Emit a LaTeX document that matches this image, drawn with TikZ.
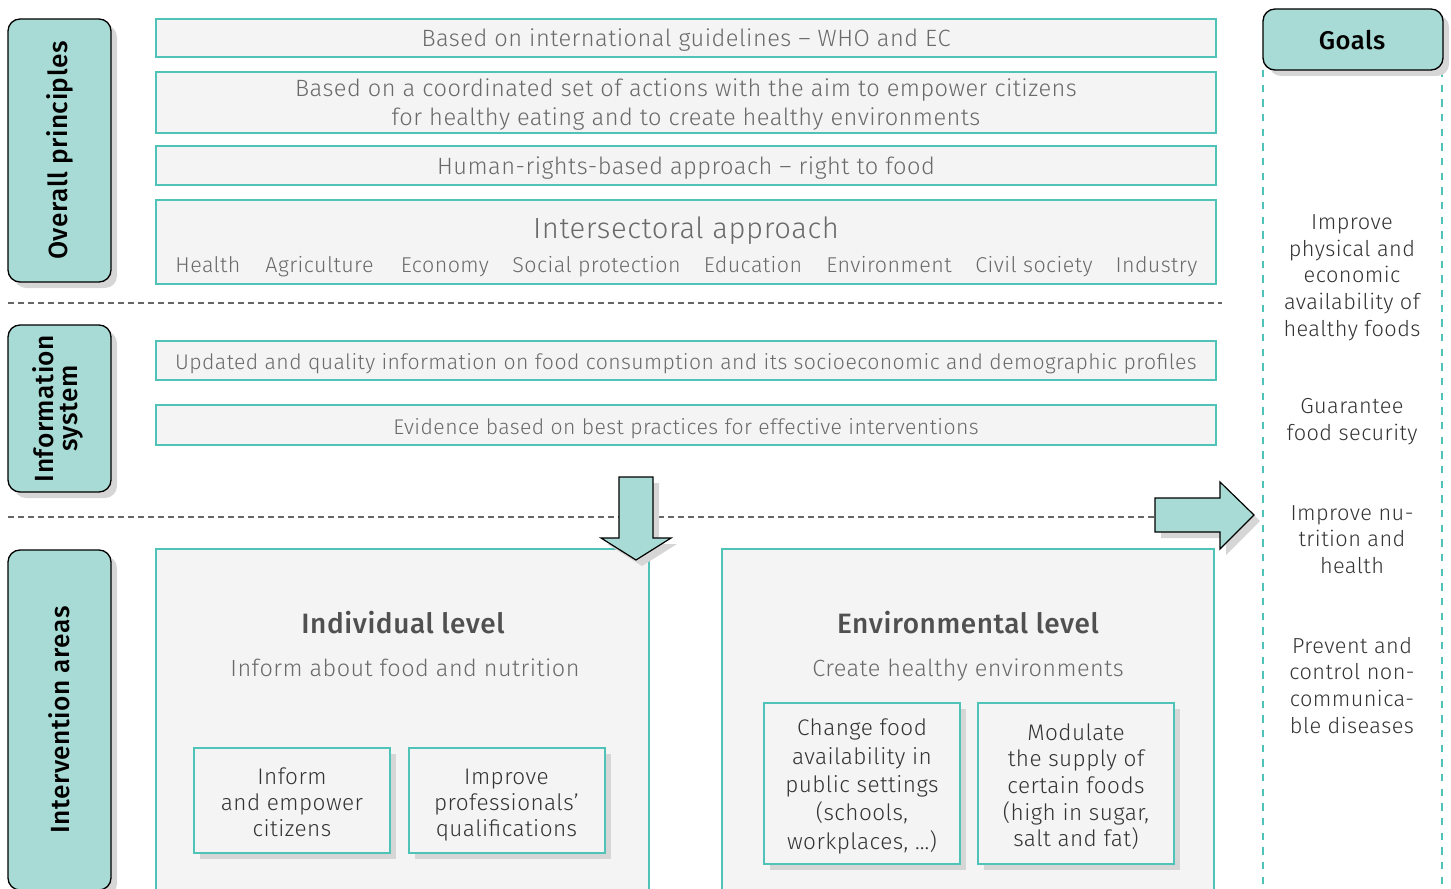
\documentclass[tikz,border=0pt]{standalone}
\usepackage{fontspec}
\setmainfont{Fira Sans}[UprightFont=* Light, BoldFont=* Medium, LetterSpace=2]
\usetikzlibrary{shadows}
\definecolor{teal1}{HTML}{4FC3B7}
\definecolor{tealfill}{HTML}{A8DBD5}
\definecolor{boxfill}{HTML}{F4F4F4}
\definecolor{txtgray}{HTML}{6A6A6A}
\definecolor{txtdark}{HTML}{333333}
\definecolor{titlegray}{HTML}{505050}
\definecolor{dashgray}{HTML}{666666}
\definecolor{shadowgray}{HTML}{D6D6D6}
\newcommand\myfs[2]{\fontsize{#1}{#2}\selectfont}
\begin{document}
\begin{tikzpicture}[x=0.75pt,y=-0.75pt,
  shad/.style={drop shadow={shadow xshift=4.5pt,shadow yshift=-4.5pt,fill=shadowgray,opacity=1}},
  lbl/.style={draw=black,line width=1pt,fill=tealfill,rounded corners=9pt,inner sep=0pt,outer sep=0pt,shad,font=\myfs{19.7}{22}\bfseries},
  pbox/.style={draw=teal1,line width=1.5pt,fill=boxfill,inner sep=0pt,outer sep=0pt},
  ibox/.style={pbox,shad},
  ptxt/.style={inner sep=0pt,anchor=base,text=txtgray,align=center,font=\myfs{17.7}{21.75}},
  itxt/.style={inner sep=0pt,anchor=base,text=txtgray,font=\myfs{15.9}{18}},
  sect/.style={inner sep=0pt,anchor=base,text=txtgray,font=\myfs{16.1}{18}},
  btxt/.style={inner sep=0pt,anchor=base,text=txtdark,align=center,font=\myfs{16.9}{20}},
  gtxt/.style={inner sep=0pt,anchor=base,text=txtdark,align=center,font=\myfs{16.3}{20}},
  sep/.style={draw=dashgray,line width=1.5pt,dash pattern=on 4.5pt off 3pt},
  gsep/.style={draw=teal1,line width=1.5pt,dash pattern=on 5.5pt off 5.5pt},
  blockarrow/.style={draw=black,line width=0.9pt,fill=tealfill,shad}]
\useasboundingbox (0,0) rectangle (1451,888);
\clip (0,0) rectangle (1451,888);

% separators
\coordinate (d1a) at (8,303); \coordinate (d1b) at (1222,303);
\coordinate (d2a) at (8,517); \coordinate (d2b) at (1155,517);
\draw[sep] (d1a) -- (d1b);
\draw[sep] (d2a) -- (d2b);

% goals column
\coordinate (gla) at (1263,70); \coordinate (glb) at (1263,890);
\coordinate (gra) at (1442,70); \coordinate (grb) at (1442,890);
\draw[gsep] (gla) -- (glb);
\draw[gsep] (gra) -- (grb);
\node[lbl,minimum width=135pt,minimum height=45.75pt] (goals) at (1353,39.5) {};
\node[inner sep=0pt,anchor=base,font=\myfs{19.2}{22}\bfseries] (goalst) at (1352,50) {Goals};

% left labels
\node[lbl,minimum width=77.25pt,minimum height=197.25pt] (op) at (59.5,150.5) {\rotatebox{90}{Overall principles}};
\node[lbl,minimum width=77.25pt,minimum height=125.25pt] (is) at (59.5,408.5) {\rotatebox{90}{\begin{tabular}{@{}c@{}}Information\\[-4pt]system\end{tabular}}};
\node[lbl,minimum width=77.25pt,minimum height=255pt] (ia) at (59.5,720) {\rotatebox{90}{Intervention areas}};

% principles
\node[pbox,minimum width=795pt,minimum height=28.5pt] (p1) at (686,38) {};
\node[pbox,minimum width=795pt,minimum height=45.75pt] (p2) at (686,102.5) {};
\node[pbox,minimum width=795pt,minimum height=29.25pt] (p3) at (686,165.5) {};
\node[pbox,minimum width=795pt,minimum height=63pt] (p4) at (686,242) {};
\node[ptxt] (p1t) at (686,47) {Based on international guidelines -- WHO and EC};
\node[ptxt] (p2t) at (686,126) {Based on a coordinated set of actions with the aim to empower citizens\\for healthy eating and to create healthy environments};
\node[ptxt] (p3t) at (686,175) {Human-rights-based approach -- right to food};
\node[inner sep=0pt,anchor=base,text=txtgray,font=\myfs{21.9}{24}] (p4t) at (686,238) {Intersectoral approach};
\node[sect] (s1) at (208,272) {Health};
\node[sect] (s2) at (319.5,272) {Agriculture};
\node[sect] (s3) at (445,272) {Economy};
\node[sect] (s4) at (596.5,272) {Social protection};
\node[sect] (s5) at (753,272) {Education};
\node[sect] (s6) at (889,272) {Environment};
\node[sect] (s7) at (1034,272) {Civil society};
\node[sect] (s8) at (1156.5,272) {Industry};

% information
\node[pbox,minimum width=795pt,minimum height=29.25pt] (i1) at (686,360.5) {};
\node[pbox,minimum width=795pt,minimum height=30pt] (i2) at (686,425) {};
\node[itxt] (i1t) at (686,369) {Updated and quality information on food consumption and its socioeconomic and demographic profiles};
\node[itxt] (i2t) at (686,434) {Evidence based on best practices for effective interventions};

% intervention areas
\node[pbox,minimum width=369.75pt,minimum height=263.25pt] (ind) at (402.5,724.5) {};
\node[pbox,minimum width=369pt,minimum height=263.25pt] (env) at (968,724.5) {};
\node[inner sep=0pt,anchor=base,text=titlegray,font=\myfs{21}{24}\bfseries] (indt) at (403,633) {Individual level};
\node[inner sep=0pt,anchor=base,text=txtgray,font=\myfs{17.6}{20}] (inds) at (405,676) {Inform about food and nutrition};
\node[inner sep=0pt,anchor=base,text=titlegray,font=\myfs{21}{24}\bfseries] (envt) at (968,633) {Environmental level};
\node[inner sep=0pt,anchor=base,text=txtgray,font=\myfs{17.6}{20}] (envs) at (968,676) {Create healthy environments};

\node[ibox,minimum width=147pt,minimum height=78.75pt] (inf) at (292,800.5) {};
\node[ibox,minimum width=147pt,minimum height=78.75pt] (imp) at (506.5,800.5) {};
\node[ibox,minimum width=147pt,minimum height=120.75pt] (chg) at (862,783.5) {};
\node[ibox,minimum width=147pt,minimum height=120.75pt] (mod) at (1076,783.5) {};
\node[btxt,font=\myfs{16.9}{19.7}] (inft) at (292,836.7) {Inform\\and empower\\citizens};
\node[btxt,font=\myfs{16.9}{19.7}] (impt) at (506.5,836.7) {Improve\\professionals’\\qualifications};
\node[btxt,font=\myfs{16.9}{21.2}] (chgt) at (862,849) {Change food\\availability in\\public settings\\(schools,\\workplaces, …)};
\node[btxt,font=\myfs{16.9}{20}] (modt) at (1076,846.7) {Modulate\\the supply of\\certain foods\\(high in sugar,\\salt and fat)};

% goals
\node[gtxt] (g1) at (1352,336) {Improve\\physical and\\economic\\availability of\\healthy foods};
\node[gtxt] (g2) at (1352,440) {Guarantee\\food security};
\node[gtxt] (g3) at (1352,573.4) {Improve nu-\\trition and\\health};
\node[gtxt] (g4) at (1352,733) {Prevent and\\control non-\\communica-\\ble diseases};

% block arrows
\draw[blockarrow] (619,477) -- (653,477) -- (653,538) -- (671,538) -- (636,560) -- (601,538) -- (619,538) -- cycle;
\draw[blockarrow] (1155,498) -- (1220,498) -- (1220,482) -- (1254,515) -- (1220,549) -- (1220,532) -- (1155,532) -- cycle;
\end{tikzpicture}
\end{document}
